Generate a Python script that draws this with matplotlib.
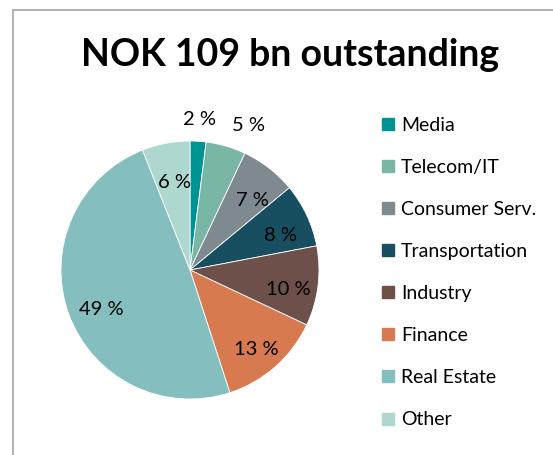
import matplotlib
matplotlib.use("Agg")
import matplotlib.pyplot as plt
from matplotlib.patches import Rectangle
from matplotlib.lines import Line2D
import numpy as np

plt.rcParams['font.family'] = ['Lato', 'DejaVu Sans']

# data
sectors = ["Media", "Telecom/IT", "Consumer Serv.", "Transportation",
           "Industry", "Finance", "Real Estate", "Other"]
shares = [2, 5, 7, 8, 10, 13, 49, 6]
colors = ["#009393", "#79B6A6", "#7E8990", "#174E60",
          "#6D5049", "#D77A4F", "#85BEBE", "#AED8CF"]
title = "NOK 109 bn outstanding"

W, H = 553, 455
fig = plt.figure(figsize=(W / 100, H / 100), dpi=100)

# grey frame, running off the right and bottom edges
fig.patches.append(Rectangle((13 / W, -0.1), 1.2, 1 - 10 / H + 0.1,
                             transform=fig.transFigure, fill=False,
                             edgecolor="#A6A6A6", linewidth=1.2))

fig.text(290 / W, 1 - 55 / H, title, ha="center", va="center",
         fontsize=27, fontweight="bold", color="black")

# pie
cx, cy, r = 190, 270, 129
ax = fig.add_axes([(cx - r) / W, (H - cy - r) / H, 2 * r / W, 2 * r / H])
wedges, _ = ax.pie(shares, colors=colors, startangle=90, counterclock=False,
                   wedgeprops=dict(linewidth=0.6, edgecolor="white"))
ax.set_xlim(-1, 1)
ax.set_ylim(-1, 1)
ax.set_aspect("equal")

for w, v in zip(wedges, shares):
    ang = np.deg2rad((w.theta1 + w.theta2) / 2)
    if v <= 5:
        # small slices get their label outside the pie
        x, y = 1.17 * np.cos(ang), 1.17 * np.sin(ang)
        ha = "left" if x > 0.15 else "center"
        ax.text(x, y, f"{v} %", ha=ha, va="center", fontsize=14.5)
    else:
        ax.annotate(f"{v} %", (0.75 * np.cos(ang), 0.75 * np.sin(ang)),
                    xytext=(2, -4), textcoords="offset points",
                    ha="center", va="center_baseline", fontsize=14.5)

# legend
handles = [Line2D([], [], marker="s", linestyle="none", markersize=9,
                  markerfacecolor=c, markeredgecolor=c) for c in colors]
fig.legend(handles, sectors, loc="upper left",
           bbox_to_anchor=(370 / W, 1 - 109 / H), frameon=False,
           fontsize=14, labelspacing=1.29, handletextpad=0.2,
           handlelength=1.0, borderaxespad=0)

fig.savefig("out.png", dpi=100)
